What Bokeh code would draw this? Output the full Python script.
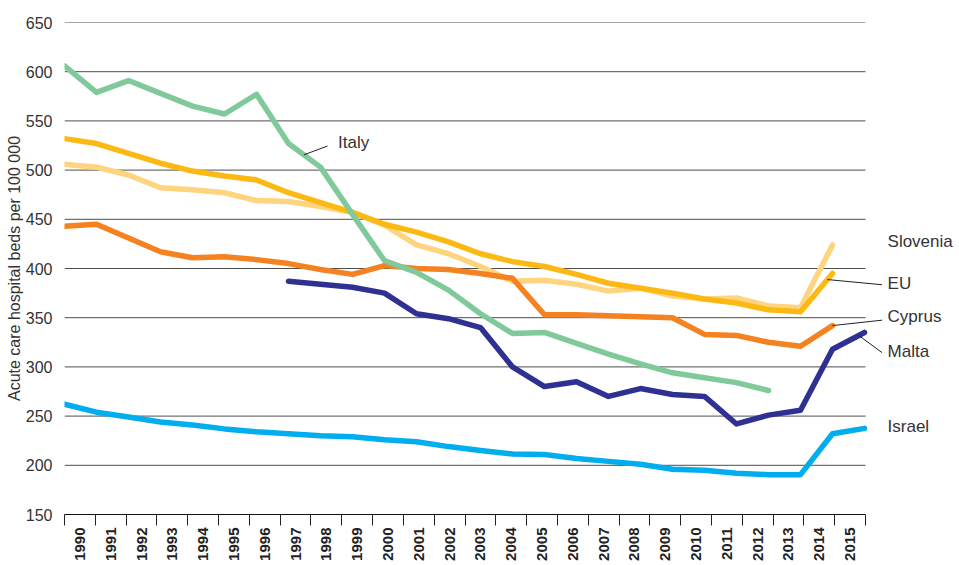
import numpy as np
from bokeh.plotting import figure
from bokeh.models import Range1d, FixedTicker, Label, CustomJSTickFormatter
from bokeh.embed import file_html
from bokeh.resources import INLINE

# ---------------- data ----------------
years = list(range(1990, 2016))
year_labels = [str(y) for y in years]
y_ticks = [150, 200, 250, 300, 350, 400, 450, 500, 550, 600, 650]

italy_years = list(range(1990, 2013))
italy = [606, 579, 591, 578, 565, 557, 577, 527, 503, 455, 408, 396, 378, 354,
         334, 335, 324, 313, 303, 294, 289, 284, 276]

eu_years = list(range(1990, 2015))
eu = [532, 527, 517, 507, 499, 494, 490, 477, 467, 457, 445, 437, 427, 415,
      407, 402, 394, 385, 380, 375, 369, 365, 358, 356, 395]

slovenia_years = list(range(1990, 2015))
slovenia = [506, 503, 495, 482, 480, 477, 469, 468, 463, 457, 444, 424, 415, 402,
            387, 388, 384, 377, 380, 372, 369, 370, 362, 360, 424]

cyprus_years = list(range(1990, 2015))
cyprus = [443, 445, 431, 417, 411, 412, 409, 405, 399, 394, 403, 400, 399, 395,
          390, 353, 353, 352, 351, 350, 333, 332, 325, 321, 342]

malta_years = list(range(1997, 2016))
malta = [387, 384, 381, 375, 354, 349, 340, 300, 280, 285, 270, 278, 272, 270,
         242, 251, 256, 318, 335]

israel_years = list(range(1990, 2016))
israel = [262, 254, 249, 244, 241, 237, 234, 232, 230, 229, 226, 224, 219, 215,
          211.5, 211, 207, 204, 201, 196, 195, 192, 190.5, 190.5, 232, 237.5]

FONT = "Liberation Sans"
TXT = "#333333"

# ---------------- layout ----------------
W, H = 957, 563
LEFT, TOP, BOTTOM = 64, 22, 45
frame_w = W - LEFT
band_px = 801.0 / len(years)          # width of one year band on the axis
year_px = 800.0 / (years[-1] - years[0])  # spacing of the data points

n_bands = len(years)
p = figure(width=W, height=H, output_backend="svg", toolbar_location=None,
           x_range=Range1d(0, frame_w / band_px), y_range=Range1d(150, 650),
           min_border_left=LEFT, min_border_right=0, min_border_top=TOP,
           min_border_bottom=BOTTOM)
p.extra_x_ranges = {"yr": Range1d(years[0], years[0] + frame_w / year_px)}
p.outline_line_color = None
p.background_fill_color = "white"
p.border_fill_color = "white"

# x axis: band ticks with labels in the bands
xa = p.xaxis[0]
xa.bounds = (0, n_bands)
xa.ticker = FixedTicker(ticks=[i + 0.5 for i in range(n_bands)],
                        minor_ticks=list(range(n_bands + 1)))
xa.formatter = CustomJSTickFormatter(args=dict(labels=year_labels),
                                     code="return labels[Math.floor(tick)];")
xa.major_tick_line_color = None
xa.major_tick_out = 9
xa.major_tick_in = 0
xa.minor_tick_line_color = "#222222"
xa.minor_tick_out = 11
xa.minor_tick_in = 0
xa.axis_line_color = "#111111"
xa.axis_line_width = 1.2
xa.major_label_orientation = np.pi / 2
xa.major_label_text_font = FONT
xa.major_label_text_font_style = "bold"
xa.major_label_text_font_size = "15px"
xa.major_label_text_color = "#222222"
xa.major_label_standoff = 2

ya = p.yaxis[0]
ya.ticker = FixedTicker(ticks=y_ticks)
ya.axis_line_color = None
ya.major_tick_line_color = None
ya.minor_tick_line_color = None
ya.major_label_text_font = FONT
ya.major_label_text_font_size = "16px"
ya.major_label_text_color = TXT
ya.major_label_standoff = 6
ya.axis_label = "Acute care hospital beds per 100 000"
ya.axis_label_text_font = FONT
ya.axis_label_text_font_style = "normal"
ya.axis_label_text_font_size = "16px"
ya.axis_label_text_color = TXT
ya.axis_label_standoff = 0

p.xgrid.visible = False
p.ygrid.visible = False

# horizontal grid lines, only across the year bands
grid_vals = y_ticks[1:]
p.segment(x0=[0] * len(grid_vals), y0=grid_vals,
          x1=[n_bands] * len(grid_vals), y1=grid_vals,
          line_color="#4d4d4d", line_width=1)

# ---------------- lines ----------------
series = [
    ("Israel", israel_years, israel, "#00AEEF"),
    ("Malta", malta_years, malta, "#2E3192"),
    ("Slovenia", slovenia_years, slovenia, "#FED47F"),
    ("EU", eu_years, eu, "#FDB913"),
    ("Cyprus", cyprus_years, cyprus, "#F58220"),
    ("Italy", italy_years, italy, "#80C99B"),
]
for name, xs, ys, col in series:
    p.line(xs, ys, x_range_name="yr", line_color=col, line_width=5.5,
           line_join="round", line_cap="round")

# ---------------- labels & leader lines ----------------
def on_line(xs, ys, x):
    return float(np.interp(x, xs, ys))

leaders = [
    # (series x, series y, start year on line, end x, end y)
    (italy_years, italy, 1997.48, 1998.22, 524.5),
    (eu_years, eu, 2013.84, 2015.55, 383.5),
    (cyprus_years, cyprus, 2014.0, 2015.55, 347.5),
    (malta_years, malta, 2014.82, 2015.55, 314.5),
]
x0s, y0s, x1s, y1s = [], [], [], []
for xs, ys, xstart, xe, ye in leaders:
    x0s.append(xstart)
    y0s.append(on_line(xs, ys, xstart))
    x1s.append(xe)
    y1s.append(ye)
p.segment(x0s, y0s, x1s, y1s, x_range_name="yr", line_color="#222222",
          line_width=1)

labels = [
    ("Italy", 1998.55, 528),
    ("Slovenia", 2015.72, 427),
    ("EU", 2015.72, 385),
    ("Cyprus", 2015.72, 351),
    ("Malta", 2015.72, 316),
    ("Israel", 2015.72, 239),
]
for txt, lx, ly in labels:
    p.add_layout(Label(x=lx, y=ly, x_range_name="yr", text=txt,
                       text_font=FONT, text_font_size="17px",
                       text_color=TXT, text_baseline="middle",
                       text_align="left"))

open("out.html", "w").write(file_html(p, INLINE))
